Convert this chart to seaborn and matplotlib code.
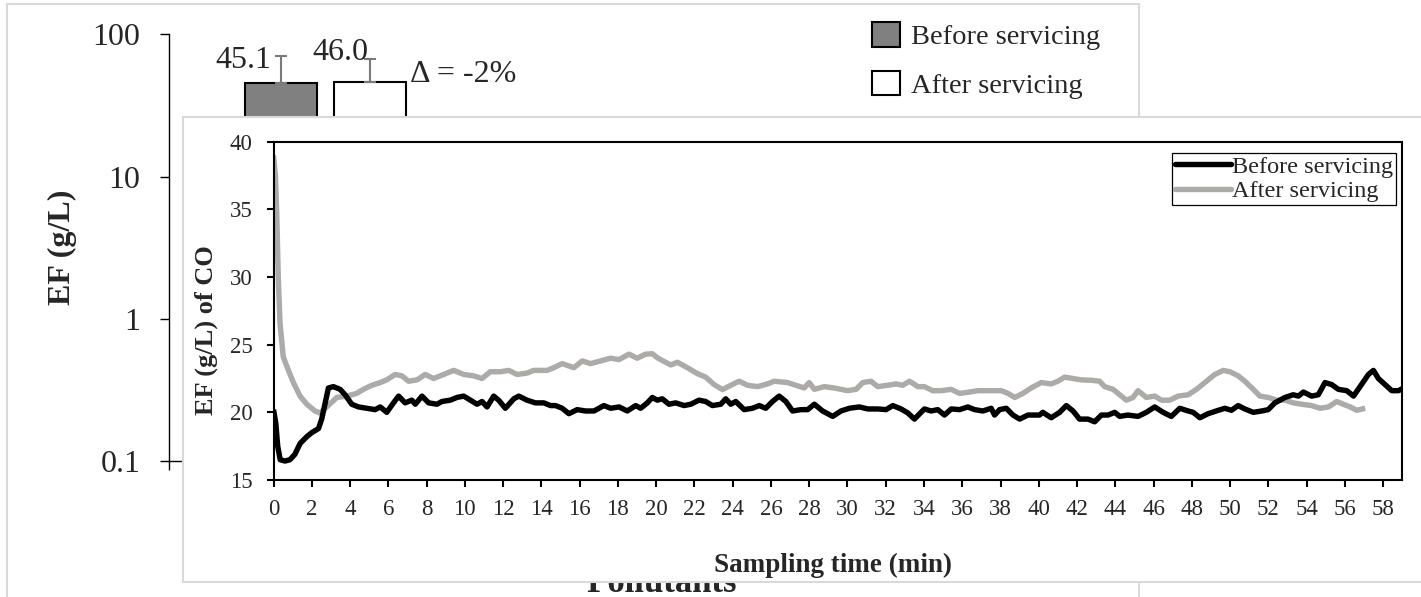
import numpy as np
import pandas as pd
import matplotlib
matplotlib.use("Agg")
import matplotlib.pyplot as plt
from matplotlib.patches import Rectangle
import seaborn as sns

# ---------------- data ----------------
pollutants = ["CO"]
periods = ["Before servicing", "After servicing"]
ef_mean = [45.1, 46.0]
ef_err_up = [25.3, 20.7]
mean_labels = ["45.1", "46.0"]
delta_label = "\u0394 = -2%"

before_time = [0.0, 0.12, 0.22, 0.35, 0.6, 0.86, 1.12, 1.39, 1.74, 2.0,
               2.35, 2.52, 2.7, 2.87, 3.13, 3.48, 3.74, 4.09, 4.44, 4.88,
               5.31, 5.58, 5.92, 6.27, 6.54, 6.88, 7.23, 7.41, 7.76, 8.11,
               8.54, 8.8, 9.24, 9.59, 9.94, 10.29, 10.64, 10.9, 11.16, 11.51,
               11.77, 12.12, 12.56, 12.82, 13.25, 13.69, 14.13, 14.48, 14.74, 15.09,
               15.44, 15.87, 16.31, 16.75, 17.27, 17.62, 18.06, 18.49, 18.93, 19.19,
               19.54, 19.8, 20.06, 20.32, 20.67, 21.02, 21.46, 21.81, 22.24, 22.59,
               22.94, 23.38, 23.64, 23.9, 24.16, 24.6, 25.03, 25.39, 25.73, 26.08,
               26.43, 26.78, 27.13, 27.57, 27.92, 28.27, 28.7, 29.23, 29.66, 30.1,
               30.62, 31.06, 31.58, 32.02, 32.37, 32.8, 33.15, 33.5, 34.02, 34.37,
               34.72, 35.07, 35.42, 35.86, 36.29, 36.64, 37.08, 37.51, 37.69, 37.95,
               38.3, 38.65, 39.0, 39.43, 40.04, 40.21, 40.65, 41.09, 41.44, 41.79,
               42.13, 42.57, 42.92, 43.27, 43.62, 43.97, 44.23, 44.66, 45.19, 45.62,
               46.06, 46.5, 46.93, 47.37, 47.81, 48.07, 48.42, 48.85, 49.38, 49.73,
               50.07, 50.42, 50.77, 51.21, 51.65, 51.99, 52.34, 52.87, 53.3, 53.57,
               53.83, 54.26, 54.61, 54.96, 55.31, 55.66, 56.1, 56.45, 56.79, 57.23,
               57.49, 57.75, 58.1, 58.45, 58.8, 59.06]
before_ef = [20.2, 19.2, 17.5, 16.5, 16.4, 16.5, 16.9, 17.7, 18.2, 18.5,
             18.8, 19.5, 20.7, 21.8, 21.9, 21.7, 21.3, 20.6, 20.4, 20.3,
             20.2, 20.4, 20.0, 20.7, 21.2, 20.7, 20.9, 20.6, 21.2, 20.7,
             20.6, 20.8, 20.9, 21.1, 21.2, 20.9, 20.6, 20.8, 20.4, 21.2,
             20.9, 20.3, 21.0, 21.2, 20.9, 20.7, 20.7, 20.5, 20.5, 20.3,
             19.9, 20.2, 20.1, 20.1, 20.5, 20.3, 20.4, 20.1, 20.5, 20.3,
             20.7, 21.1, 20.9, 21.0, 20.6, 20.7, 20.5, 20.6, 20.9, 20.8,
             20.5, 20.6, 21.0, 20.6, 20.8, 20.2, 20.3, 20.5, 20.3, 20.8,
             21.2, 20.8, 20.1, 20.2, 20.2, 20.6, 20.1, 19.7, 20.1, 20.3,
             20.4, 20.25, 20.25, 20.2, 20.5, 20.25, 19.96, 19.5, 20.25, 20.1,
             20.2, 19.8, 20.25, 20.2, 20.4, 20.2, 20.1, 20.3, 19.8, 20.2,
             20.3, 19.8, 19.5, 19.8, 19.8, 20.0, 19.6, 20.0, 20.5, 20.1,
             19.5, 19.5, 19.3, 19.8, 19.8, 20.0, 19.7, 19.8, 19.7, 20.0,
             20.4, 20.0, 19.7, 20.3, 20.1, 20.0, 19.6, 19.9, 20.15, 20.3,
             20.15, 20.5, 20.25, 20.0, 20.1, 20.2, 20.7, 21.1, 21.3, 21.2,
             21.5, 21.2, 21.3, 22.2, 22.05, 21.7, 21.6, 21.2, 21.9, 22.8,
             23.1, 22.5, 22.05, 21.6, 21.6, 21.8]

after_time = [0.0, 0.1, 0.17, 0.25, 0.34, 0.51, 0.78, 1.04, 1.39, 1.74,
              2.17, 2.43, 2.78, 3.31, 3.83, 4.35, 4.70, 5.14, 5.58, 5.92,
              6.36, 6.71, 7.06, 7.50, 7.93, 8.37, 8.89, 9.42, 9.94, 10.46,
              10.90, 11.33, 11.86, 12.30, 12.73, 13.25, 13.60, 14.30, 14.65, 15.09,
              15.70, 16.14, 16.57, 17.09, 17.62, 18.06, 18.58, 19.01, 19.45, 19.8,
              20.1, 20.76, 21.11, 21.63, 22.16, 22.59, 23.03, 23.47, 23.90, 24.34,
              24.77, 25.30, 25.82, 26.17, 26.87, 27.31, 27.74, 28.00, 28.27, 28.79,
              29.31, 30.01, 30.45, 30.80, 31.23, 31.58, 32.10, 32.54, 32.89, 33.24,
              33.68, 34.02, 34.46, 34.90, 35.42, 35.86, 36.38, 36.82, 37.34, 38.04,
              38.39, 38.74, 39.17, 39.6, 40.13, 40.65, 41.0, 41.35, 41.79, 42.22,
              42.74, 43.18, 43.44, 43.88, 44.23, 44.58, 44.93, 45.19, 45.62, 46.06,
              46.41, 46.85, 47.28, 47.81, 48.24, 48.68, 49.2, 49.64, 49.99, 50.42,
              50.77, 51.21, 51.56, 51.99, 52.43, 52.87, 53.3, 53.74, 54.26, 54.7,
              55.14, 55.57, 55.92, 56.27, 56.62, 57.06]
after_ef = [39.0, 37.5, 34.7, 30.0, 26.6, 24.1, 23.1, 22.2, 21.2, 20.6,
            20.1, 19.95, 20.4, 21.1, 21.2, 21.4, 21.7, 22.0, 22.2, 22.4,
            22.8, 22.7, 22.3, 22.4, 22.8, 22.5, 22.8, 23.1, 22.8, 22.7,
            22.5, 23.0, 23.0, 23.1, 22.8, 22.9, 23.1, 23.1, 23.3, 23.6,
            23.3, 23.8, 23.6, 23.8, 24.0, 23.9, 24.3, 24.0, 24.3, 24.33,
            24.0, 23.5, 23.7, 23.3, 22.86, 22.6, 22.05, 21.68, 22.0, 22.3,
            22.0, 21.9, 22.1, 22.3, 22.2, 22.0, 21.8, 22.2, 21.7, 21.9,
            21.8, 21.6, 21.7, 22.2, 22.3, 21.9, 22.0, 22.1, 22.0, 22.3,
            21.9, 21.9, 21.6, 21.6, 21.7, 21.4, 21.5, 21.6, 21.6, 21.6,
            21.4, 21.1, 21.4, 21.8, 22.2, 22.1, 22.3, 22.6, 22.5, 22.4,
            22.37, 22.3, 21.9, 21.7, 21.3, 20.9, 21.1, 21.6, 21.1, 21.2,
            20.9, 20.9, 21.2, 21.3, 21.7, 22.2, 22.8, 23.1, 23.0, 22.7,
            22.3, 21.7, 21.2, 21.1, 20.9, 20.9, 20.7, 20.6, 20.5, 20.3,
            20.4, 20.8, 20.6, 20.4, 20.15, 20.3]

# ---------------- style ----------------
sns.set_theme(style="white")
plt.rcParams["font.family"] = ["Liberation Serif", "DejaVu Serif"]

W, H = 1421, 597
fig = plt.figure(figsize=(W / 100, H / 100), dpi=100)


def fx(px):
    return px / W


def fy(py):
    return 1 - py / H


# outer (background) panel border
fig.add_artist(Rectangle((fx(6.7), -0.05), fx(1139 - 6.7), fy(4) + 0.05,
                         transform=fig.transFigure, fill=False,
                         edgecolor="#d9d9d9", lw=1.5, zorder=-1))

# ---------------- background bar chart (log scale) ----------------
bx0, bx1, by_top, by_bot = 168.5, 1155.5, 34.3, 461.0
ax = fig.add_axes([fx(bx0), fy(by_bot), fx(bx1 - bx0), (by_bot - by_top) / H], zorder=0)
ax.set_facecolor("none")
ax.set_yscale("log")

bar_df = pd.DataFrame({
    "Pollutant": pollutants * len(periods),
    "Period": periods,
    "EF": ef_mean,
})
sns.barplot(data=bar_df, x="Pollutant", y="EF", hue="Period", hue_order=periods,
            palette={"Before servicing": "#808080", "After servicing": "white"},
            edgecolor="black", linewidth=1.5, width=0.8, gap=0.2,
            errorbar=None, ax=ax)

bars = [p for p in ax.patches if p.get_height() > 0][:2]
centers = [p.get_x() + p.get_width() / 2 for p in bars]
ax.errorbar(centers, ef_mean, yerr=[[0] * len(ef_err_up), ef_err_up], fmt="none",
            ecolor="#7a7a7a", elinewidth=1.5, capsize=4.3, capthick=1.5, zorder=3)

ax.annotate(mean_labels[0], xy=(centers[0], ef_mean[0] + ef_err_up[0]),
            xytext=(-6.7, -9.0), textcoords="offset points",
            ha="right", va="baseline", fontsize=23)
ax.annotate(mean_labels[1], xy=(centers[1], ef_mean[1] + ef_err_up[1]),
            xytext=(-1.0, -0.5), textcoords="offset points",
            ha="right", va="baseline", fontsize=23)
ax.annotate(delta_label, xy=(centers[1], ef_mean[1]),
            xytext=(28.8, 0), textcoords="offset points",
            ha="left", va="baseline", fontsize=23)

ax.set_ylim(0.1, 100)
ax.set_yticks([0.1, 1, 10, 100])
ax.set_yticklabels(["0.1", "1", "10", "100"])
ax.yaxis.set_minor_locator(matplotlib.ticker.NullLocator())
xl = -(325.5 - bx0) / 222.5
xr = (bx1 - 325.5) / 222.5
ax.set_xlim(xl, xr)
ax.set_xticks([xl])
ax.set_xticklabels([""])
ax.tick_params(axis="y", which="major", direction="out", length=6.5, width=1,
               color="black", pad=13.7, labelsize=23, left=True)
ax.tick_params(axis="x", direction="out", length=6.5, width=1, color="black", bottom=True)
for s in ["top", "right"]:
    ax.spines[s].set_visible(False)
for s in ["left", "bottom"]:
    ax.spines[s].set_visible(True)
    ax.spines[s].set_color("black")
    ax.spines[s].set_linewidth(1.0)

ax.set_ylabel("EF (g/L)", fontsize=23, fontweight="bold", va="center")
ax.yaxis.set_label_coords((62 - bx0) / (bx1 - bx0), (by_bot - 247) / (by_bot - by_top))
ax.set_xlabel("Pollutants", fontsize=25, fontweight="bold")
ax.xaxis.label.set_va("baseline")
ax.xaxis.set_label_coords((662 - bx0) / (bx1 - bx0), (by_bot - 592) / (by_bot - by_top))

old = ax.get_legend()
handles = old.legend_handles
labels = [t.get_text() for t in old.get_texts()]
old.remove()
leg = ax.legend(handles=handles, labels=labels, loc="upper left",
                bbox_to_anchor=(fx(872), fy(22)), bbox_transform=fig.transFigure,
                frameon=False, borderpad=0, borderaxespad=0, fontsize=20.5,
                handlelength=1.0, handleheight=0.95, handletextpad=0.37,
                labelspacing=0.72)
for h, c in zip(leg.get_patches(), ["#808080", "white"]):
    h.set_facecolor(c)
    h.set_edgecolor("black")
    h.set_linewidth(1.5)

# ---------------- inset panel ----------------
fig.add_artist(Rectangle((fx(183), fy(582)), fx(1460 - 183), (582 - 117) / H,
                         transform=fig.transFigure, facecolor="white",
                         edgecolor="#d9d9d9", lw=1.5, zorder=1))

ix0, ix1, iy_top, iy_bot = 273.5, 1402.3, 141.7, 480.0
ax2 = fig.add_axes([fx(ix0), fy(iy_bot), fx(ix1 - ix0), (iy_bot - iy_top) / H], zorder=2)
ax2.set_facecolor("white")

line_df = pd.concat([
    pd.DataFrame({"Time": before_time, "EF": before_ef, "Period": periods[0]}),
    pd.DataFrame({"Time": after_time, "EF": after_ef, "Period": periods[1]}),
], ignore_index=True)
sns.lineplot(data=line_df, x="Time", y="EF", hue="Period", hue_order=periods,
             palette={"Before servicing": "black", "After servicing": "#adaaaa"},
             estimator=None, sort=False, linewidth=3.9, ax=ax2)
for ln in ax2.lines:
    ln.set_solid_joinstyle("round")
    ln.set_solid_capstyle("butt")
ax2.lines[0].set_zorder(2.6)
ax2.lines[1].set_zorder(2.4)

ax2.set_xlim(0, 59)
ax2.set_ylim(15, 40)
ax2.set_xticks(np.arange(0, 59, 2))
ax2.set_yticks(np.arange(15, 41, 5))
ax2.tick_params(axis="x", direction="out", length=5, width=1.5, color="black",
                pad=8.5, labelsize=16.5, bottom=True)
ax2.tick_params(axis="y", direction="out", length=5, width=1.5, color="black",
                pad=10, labelsize=16.5, left=True)
for s in ax2.spines.values():
    s.set_visible(True)
    s.set_color("black")
    s.set_linewidth(1.5)

ax2.set_xlabel("Sampling time (min)", fontsize=19.5, fontweight="bold")
ax2.xaxis.label.set_va("center")
ax2.xaxis.set_label_coords((832.5 - ix0) / (ix1 - ix0), (iy_bot - 565) / (iy_bot - iy_top))
ax2.set_ylabel("EF (g/L) of CO", fontsize=19, fontweight="bold", va="center")
ax2.yaxis.set_label_coords((206 - ix0) / (ix1 - ix0), (iy_bot - 330) / (iy_bot - iy_top))

old2 = ax2.get_legend()
h2 = old2.legend_handles
l2 = [t.get_text() for t in old2.get_texts()]
old2.remove()
leg2 = ax2.legend(handles=h2, labels=l2, loc="upper right",
                  bbox_to_anchor=((1396 - ix0) / (ix1 - ix0), (iy_bot - 152.7) / (iy_bot - iy_top)),
                  borderaxespad=0, fontsize=17.5, frameon=True, fancybox=False,
                  edgecolor="black", framealpha=1, borderpad=0.12,
                  handlelength=2.3, handletextpad=0.06, labelspacing=0.1)
leg2.get_frame().set_linewidth(0.9)
for h, c in zip(leg2.get_lines(), ["black", "#adaaaa"]):
    h.set_linewidth(3.9)
    h.set_color(c)

fig.savefig("out.png", dpi=100)
